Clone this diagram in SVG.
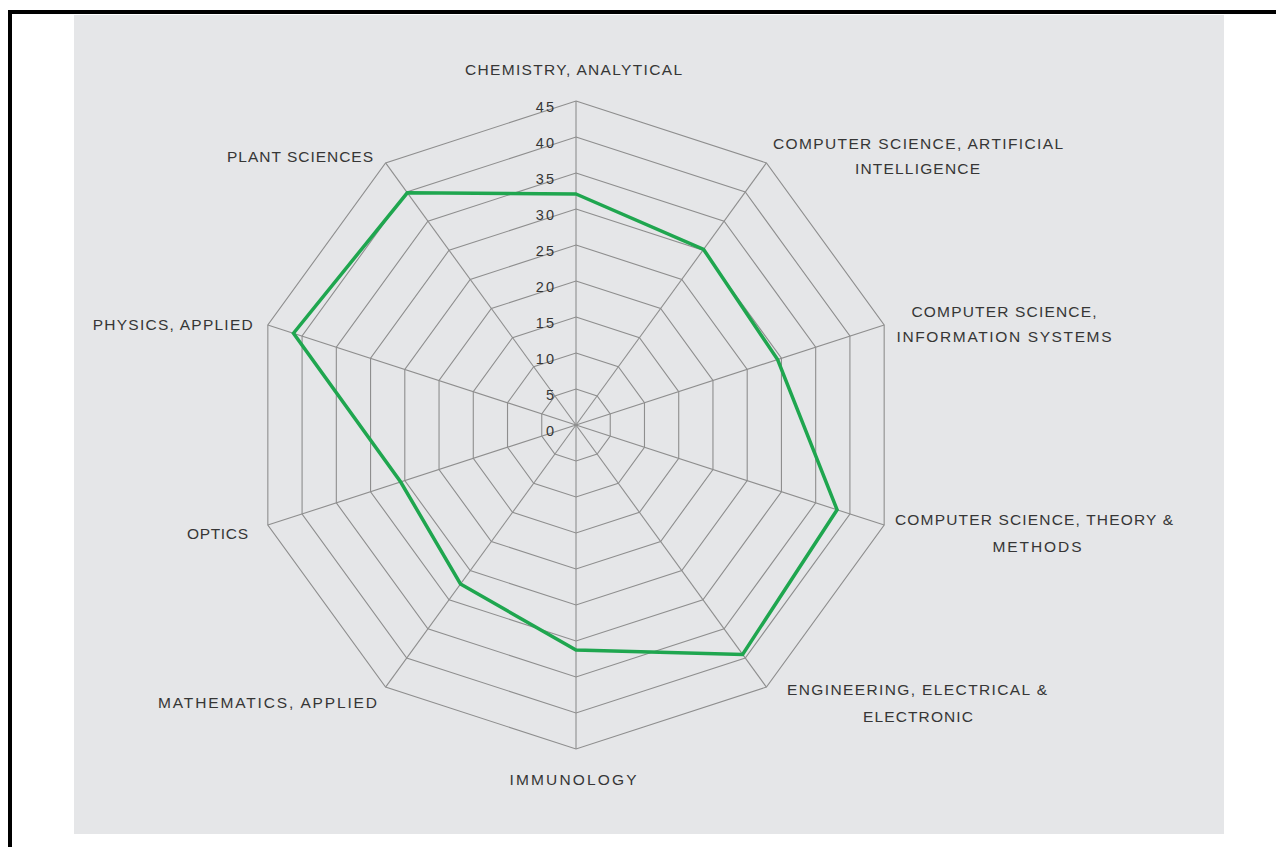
<svg xmlns="http://www.w3.org/2000/svg" xmlns:xlink="http://www.w3.org/1999/xlink" width="1276" height="847" viewBox="0 0 1276 847">
<style>
.grid{fill:none;stroke:#8e8e8e;stroke-width:1.1;vector-effect:non-scaling-stroke}
.spoke{stroke:#8e8e8e;stroke-width:1.1}
.cat{font-family:"Liberation Sans",Arial,sans-serif;font-size:15.5px;fill:#363636;text-anchor:middle}
.tick{font-family:"Liberation Sans",Arial,sans-serif;font-size:14.5px;fill:#363636;text-anchor:end;letter-spacing:2px}
.data{fill:none;stroke:#1fa64f;stroke-width:3.5;stroke-linejoin:miter}
</style>
<defs>
<polygon id="ring" class="grid" points="0,-36 21.16,-29.12 34.24,-11.12 34.24,11.12 21.16,29.12 0,36 -21.16,29.12 -34.24,11.12 -34.24,-11.12 -21.16,-29.12"/>
</defs>
<rect x="0" y="0" width="1276" height="847" fill="#ffffff"/>
<rect x="10" y="12" width="1300" height="900" fill="none" stroke="#000000" stroke-width="4"/>
<rect x="74" y="15" width="1150" height="819" fill="#e5e6e8"/>
<g id="rings" transform="translate(576 425)">
<use xlink:href="#ring" transform="scale(1)"/>
<use xlink:href="#ring" transform="scale(2)"/>
<use xlink:href="#ring" transform="scale(3)"/>
<use xlink:href="#ring" transform="scale(4)"/>
<use xlink:href="#ring" transform="scale(5)"/>
<use xlink:href="#ring" transform="scale(6)"/>
<use xlink:href="#ring" transform="scale(7)"/>
<use xlink:href="#ring" transform="scale(8)"/>
<use xlink:href="#ring" transform="scale(9)"/>
</g>
<g id="spokes" class="spoke">
<line x1="576" y1="425" x2="576" y2="101"/>
<line x1="576" y1="425" x2="766.4" y2="162.9"/>
<line x1="576" y1="425" x2="884.2" y2="324.9"/>
<line x1="576" y1="425" x2="884.2" y2="525.1"/>
<line x1="576" y1="425" x2="766.4" y2="687.1"/>
<line x1="576" y1="425" x2="576" y2="749"/>
<line x1="576" y1="425" x2="385.6" y2="687.1"/>
<line x1="576" y1="425" x2="267.8" y2="525.1"/>
<line x1="576" y1="425" x2="267.8" y2="324.9"/>
<line x1="576" y1="425" x2="385.6" y2="162.9"/>
</g>
<g id="ticks" class="tick">
<text x="556" y="436">0</text>
<text x="556" y="400">5</text>
<text x="556" y="364">10</text>
<text x="556" y="328">15</text>
<text x="556" y="292">20</text>
<text x="556" y="256">25</text>
<text x="556" y="220">30</text>
<text x="556" y="184">35</text>
<text x="556" y="148">40</text>
<text x="556" y="112">45</text>
</g>
<g id="series">
<polygon class="data" points="576,194 703.6,249.4 777.6,359.5 837.1,509.8 742.6,654.4 576,650 460.5,584 400.7,482 293.5,333.2 407.3,192.8"/>
</g>
<g id="label-chemistry" class="cat"><text x="573.5" y="75" textLength="217" lengthAdjust="spacing">CHEMISTRY, ANALYTICAL</text></g>
<g id="label-ai" class="cat">
<text x="918" y="149" textLength="290" lengthAdjust="spacing">COMPUTER SCIENCE, ARTIFICIAL</text>
<text x="917.5" y="174" textLength="125" lengthAdjust="spacing">INTELLIGENCE</text>
</g>
<g id="label-is" class="cat">
<text x="1004" y="317" textLength="185" lengthAdjust="spacing">COMPUTER SCIENCE,</text>
<text x="1004" y="342" textLength="215" lengthAdjust="spacing">INFORMATION SYSTEMS</text>
</g>
<g id="label-tm" class="cat">
<text x="1034" y="525" textLength="278" lengthAdjust="spacing">COMPUTER SCIENCE, THEORY &amp;</text>
<text x="1037" y="552" textLength="89" lengthAdjust="spacing">METHODS</text>
</g>
<g id="label-ee" class="cat">
<text x="917" y="695" textLength="260" lengthAdjust="spacing">ENGINEERING, ELECTRICAL &amp;</text>
<text x="918" y="722" textLength="110" lengthAdjust="spacing">ELECTRONIC</text>
</g>
<g id="label-immunology" class="cat"><text x="573" y="785" textLength="127" lengthAdjust="spacing">IMMUNOLOGY</text></g>
<g id="label-math" class="cat"><text x="267.5" y="708" textLength="219" lengthAdjust="spacing">MATHEMATICS, APPLIED</text></g>
<g id="label-optics" class="cat"><text x="217.5" y="539" textLength="61" lengthAdjust="spacing">OPTICS</text></g>
<g id="label-physics" class="cat"><text x="172.7" y="330" textLength="160" lengthAdjust="spacing">PHYSICS, APPLIED</text></g>
<g id="label-plant" class="cat"><text x="300" y="162" textLength="146" lengthAdjust="spacing">PLANT SCIENCES</text></g>
</svg>
